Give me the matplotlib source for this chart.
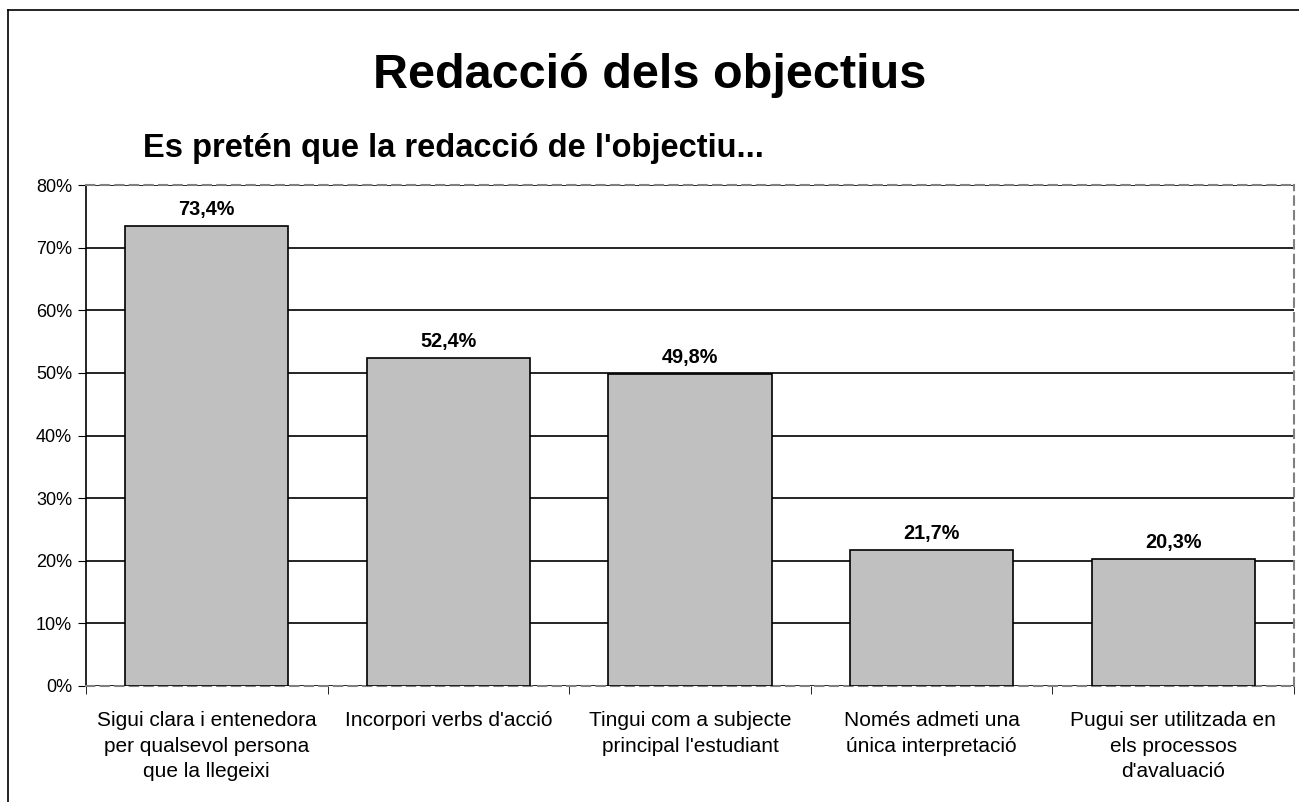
import matplotlib
matplotlib.use("Agg")
import matplotlib.pyplot as plt
from matplotlib.lines import Line2D
import numpy as np

categories = ["Sigui clara i entenedora\nper qualsevol persona\nque la llegeixi",
              "Incorpori verbs d'acció",
              "Tingui com a subjecte\nprincipal l'estudiant",
              "Només admeti una\núnica interpretació",
              "Pugui ser utilitzada en\nels processos\nd'avaluació"]
values = [73.4, 52.4, 49.8, 21.7, 20.3]
yticks = [0, 10, 20, 30, 40, 50, 60, 70, 80]

plt.rcParams['font.family'] = ['Liberation Sans', 'DejaVu Sans']

fig = plt.figure(figsize=(12.99, 8.02), dpi=100)
ax = fig.add_axes([86/1299, 1 - 686/802, (1294 - 86)/1299, (686 - 185)/802])

x = np.arange(len(categories))
ax.set_axisbelow(True)
ax.yaxis.grid(True, color='black', linewidth=1.2)
ax.bar(x, values, width=0.675, color='#c0c0c0', edgecolor='black', linewidth=1.2, zorder=3)

for xi, v in zip(x, values):
    ax.text(xi, v + 1.1, f"{v:.1f}%".replace('.', ','), ha='center', va='bottom',
            fontsize=14.3, fontweight='bold')

ax.set_xlim(-0.5, len(categories) - 0.5)
ax.set_ylim(0, 80)
ax.set_yticks(yticks)
ax.set_yticklabels([f"{t}%" for t in yticks], fontsize=13)
ax.set_xticks(x)
ax.set_xticklabels(categories, fontsize=15, linespacing=1.44)
ax.set_xticks(np.arange(len(categories) + 1) - 0.5, minor=True)
ax.tick_params(axis='x', which='major', length=0, pad=18)
ax.tick_params(axis='x', which='minor', length=6, direction='out', color='black')
ax.tick_params(axis='y', length=6, direction='out', color='black', pad=4)

for side in ['top', 'right', 'bottom']:
    ax.spines[side].set_color('#808080')
    ax.spines[side].set_linestyle((0, (4, 3)))
    ax.spines[side].set_linewidth(1.5)
ax.spines['left'].set_color('black')
ax.spines['left'].set_linewidth(1.2)

fig.text(0.5, 1 - 75/802, "Redacció dels objectius", ha='center', va='center',
         fontsize=35, fontweight='bold')
fig.text(143/1299, 1 - 148/802, "Es pretén que la redacció de l'objectiu...", ha='left',
         va='center', fontsize=23.5, fontweight='bold')

# chart area border (top and left visible)
fig.add_artist(Line2D([8/1299, 8/1299], [0, 1 - 10/802], color='black', linewidth=1.2,
                      transform=fig.transFigure))
fig.add_artist(Line2D([8/1299, 1], [1 - 10/802, 1 - 10/802], color='black', linewidth=1.2,
                      transform=fig.transFigure))

fig.savefig("out.png", dpi=100)
